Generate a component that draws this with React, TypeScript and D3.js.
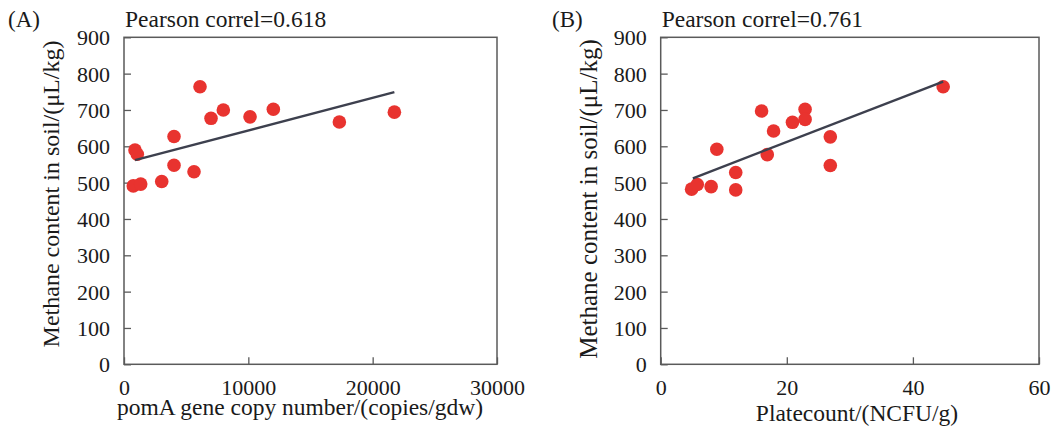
import * as d3 from "d3";
import React from "react";

// panel A: pomA gene copies vs methane
const pomaCopies = [885, 1070, 748, 1343, 3033, 4023, 4023, 5632, 6114, 6999, 7989, 10137, 12011, 17321, 21746];
const methaneA = [590, 578, 491, 496, 503, 627, 548, 530, 764, 677, 700, 681, 702, 667, 694];
const trendAx = [885, 21746];
const trendAy = [562, 749];

// panel B: plate count vs methane
const plateCounts = [4.9, 5.8, 8.0, 8.9, 11.9, 11.9, 16.0, 16.9, 17.9, 20.9, 22.9, 22.9, 26.9, 26.9, 44.8];
const methaneB = [482, 495, 489, 592, 528, 480, 697, 577, 642, 666, 702, 674, 626, 547, 764];
const trendBx = [5.1, 44.8];
const trendBy = [512, 778];

const yTicks = [0, 100, 200, 300, 400, 500, 600, 700, 800, 900];
const xTicksA = [0, 10000, 20000, 30000];
const xTicksB = [0, 20, 40, 60];

const FONT = "'Liberation Serif', 'Times New Roman', serif";
const TEXT = "#1a1a1a";
const FRAME = "#5a5a5a";
const DOT = "#e8332f";
const LINE = "#3d404e";

const panels = [
  {
    tag: "(A)",
    tagX: 8,
    r: "Pearson correl=0.618",
    xs: pomaCopies,
    ys: methaneA,
    tx: trendAx,
    ty: trendAy,
    xTicks: xTicksA,
    xMax: 30000,
    left: 124,
    right: 497,
    xLabel: "pomA gene copy number/(copies/gdw)",
    xLabelX: 300,
    xLabelY: 415,
    yLabelX: 59,
    yLabelY: 194,
    yLabelSize: 24,
  },
  {
    tag: "(B)",
    tagX: 552,
    r: "Pearson correl=0.761",
    xs: plateCounts,
    ys: methaneB,
    tx: trendBx,
    ty: trendBy,
    xTicks: xTicksB,
    xMax: 60,
    left: 660.7,
    right: 1039,
    xLabel: "Platecount/(NCFU/g)",
    xLabelX: 857,
    xLabelY: 421,
    yLabelX: 597,
    yLabelY: 199,
    yLabelSize: 25,
  },
];

export default function App() {
  const ref = React.useRef(null);

  React.useEffect(() => {
    ref.current.innerHTML = "";
    const svg = d3
      .select(ref.current)
      .append("svg")
      .attr("width", 1054)
      .attr("height", 430)
      .style("position", "absolute")
      .style("left", 0)
      .style("top", 0)
      .style("font-family", FONT);

    const top = 37.3;
    const bottom = 364.3;

    panels.forEach((p) => {
      const x = d3.scaleLinear().domain([0, p.xMax]).range([p.left, p.right]);
      const y = d3.scaleLinear().domain([0, 900]).range([bottom, top]);
      const g = svg.append("g");

      // y axis
      const ya = g
        .append("g")
        .attr("transform", `translate(${p.left},0)`)
        .call(d3.axisLeft(y).tickValues(yTicks).tickSizeInner(-7).tickSizeOuter(0).tickPadding(14));
      ya.select(".domain").remove();
      ya.selectAll("line").attr("stroke", FRAME).attr("stroke-width", 1.3);
      ya.selectAll("text")
        .attr("fill", TEXT)
        .style("font-size", "22px")
        .style("font-family", FONT)
        .attr("dy", "0.34em");

      // x axis
      const xa = g
        .append("g")
        .attr("transform", `translate(0,${bottom})`)
        .call(d3.axisBottom(x).tickValues(p.xTicks).tickFormat(d3.format("d")).tickSizeInner(-7).tickSizeOuter(0).tickPadding(15));
      xa.select(".domain").remove();
      xa.selectAll("line").attr("stroke", FRAME).attr("stroke-width", 1.3);
      xa.selectAll("text")
        .attr("fill", TEXT)
        .style("font-size", "22px")
        .style("font-family", FONT);

      // frame
      g.append("rect")
        .attr("x", p.left)
        .attr("y", top)
        .attr("width", p.right - p.left)
        .attr("height", bottom - top)
        .attr("fill", "none")
        .attr("stroke", FRAME)
        .attr("stroke-width", 1.5);

      // points
      g.append("g")
        .selectAll("circle")
        .data(p.xs.map((v, i) => [v, p.ys[i]]))
        .enter()
        .append("circle")
        .attr("cx", (d) => x(d[0]))
        .attr("cy", (d) => y(d[1]))
        .attr("r", 6.8)
        .attr("fill", DOT);

      // trend line
      g.append("path")
        .datum(p.tx.map((v, i) => [v, p.ty[i]]))
        .attr("fill", "none")
        .attr("stroke", LINE)
        .attr("stroke-width", 2.4)
        .attr(
          "d",
          d3
            .line()
            .x((d) => x(d[0]))
            .y((d) => y(d[1]))
        );

      // labels
      g.append("text")
        .attr("x", p.tagX)
        .attr("y", 27)
        .attr("fill", TEXT)
        .style("font-size", "23px")
        .text(p.tag);

      g.append("text")
        .attr("x", p.left + 1)
        .attr("y", 27)
        .attr("fill", TEXT)
        .style("font-size", "23.5px")
        .text(p.r);

      g.append("text")
        .attr("x", p.xLabelX)
        .attr("y", p.xLabelY)
        .attr("text-anchor", "middle")
        .attr("fill", TEXT)
        .style("font-size", "23.5px")
        .text(p.xLabel);

      g.append("text")
        .attr("transform", `translate(${p.yLabelX},${p.yLabelY}) rotate(-90)`)
        .attr("text-anchor", "middle")
        .attr("fill", TEXT)
        .style("font-size", `${p.yLabelSize}px`)
        .text("Methane content in soil/(μL/kg)");
    });
  }, []);

  return <div ref={ref}></div>;
}
